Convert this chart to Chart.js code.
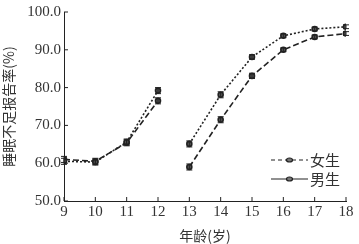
<!DOCTYPE html>
<html>
<head>
<meta charset="utf-8">
<script src="https://cdn.jsdelivr.net/npm/chart.js@4"></script>
<style>
  html, body { margin: 0; padding: 0; background: #fff; }
  #wrap { width: 359px; height: 244px; }
</style>
</head>
<body>
<div id="wrap"><canvas id="c"></canvas></div>
<script>
// 数据
const ages = [9, 10, 11, 12, 13, 14, 15, 16, 17, 18];
const girls = [60.5, 60.3, 65.6, 79.2, 65.1, 78.1, 88.1, 93.7, 95.5, 96.1];
const boys = [61.0, 60.5, 65.4, 76.5, 59.0, 71.5, 83.1, 90.0, 93.4, 94.3];
const girlsErr = [0.8, 0.8, 0.8, 0.8, 0.8, 0.8, 0.6, 0.5, 0.5, 0.5];
const boysErr = [0.8, 0.8, 0.8, 0.8, 0.8, 0.8, 0.7, 0.5, 0.5, 0.5];
const yTicks = [50, 60, 70, 80, 90, 100];
const breakAfter = 12; // 12岁与13岁之间断开

const serif = "'Liberation Serif', 'Noto Sans CJK SC', serif";
const ink = '#222';

function toPoints(vals) {
    return ages.map((a, i) => ({ x: a, y: vals[i] }));
}

const hideBreak = ctx => ctx.p0.parsed.x === breakAfter ? 'transparent' : undefined;

// 误差线、内向刻度与图例
const extras = {
    id: 'extras',
    afterDatasetsDraw(chart) {
        const { ctx, scales: { x, y }, chartArea } = chart;
        ctx.save();
        ctx.strokeStyle = ink;
        ctx.lineWidth = 1;
        [girlsErr, boysErr].forEach((errs, di) => {
            const vals = di === 0 ? girls : boys;
            ages.forEach((a, i) => {
                const px = x.getPixelForValue(a);
                const top = y.getPixelForValue(vals[i] + errs[i]);
                const bot = y.getPixelForValue(vals[i] - errs[i]);
                ctx.beginPath();
                ctx.moveTo(px, top); ctx.lineTo(px, bot);
                ctx.moveTo(px - 3, top); ctx.lineTo(px + 3, top);
                ctx.moveTo(px - 3, bot); ctx.lineTo(px + 3, bot);
                ctx.stroke();
            });
        });
        // 内向刻度
        ctx.beginPath();
        ages.forEach(a => {
            const px = x.getPixelForValue(a);
            ctx.moveTo(px, chartArea.bottom); ctx.lineTo(px, chartArea.bottom - 4);
        });
        yTicks.forEach(v => {
            const py = y.getPixelForValue(v);
            ctx.moveTo(chartArea.left, py); ctx.lineTo(chartArea.left + 4, py);
        });
        ctx.stroke();
        // 图例
        const items = [
            { text: '女生', dash: [4, 3] },
            { text: '男生', dash: [] }
        ];
        items.forEach((it, i) => {
            const ly = 160 + i * 19;
            const x0 = 271, x1 = 308;
            ctx.setLineDash(it.dash);
            ctx.lineWidth = 1.2;
            ctx.beginPath();
            ctx.moveTo(x0, ly); ctx.lineTo(x1, ly);
            ctx.stroke();
            ctx.setLineDash([]);
            ctx.fillStyle = '#777';
            ctx.beginPath();
            ctx.ellipse((x0 + x1) / 2, ly, 3, 2, 0, 0, Math.PI * 2);
            ctx.fill();
            ctx.stroke();
            ctx.fillStyle = '#333';
            ctx.font = "15px 'Noto Sans CJK SC'";
            ctx.textBaseline = 'middle';
            ctx.fillText(it.text, x1 + 2, ly);
        });
        ctx.restore();
    }
};

new Chart(document.getElementById('c'), {
    type: 'line',
    data: {
        datasets: [
            {
                label: '女生',
                data: toPoints(girls),
                borderColor: ink,
                borderWidth: 1.6,
                borderDash: [2, 2],
                pointRadius: 2.5,
                pointBackgroundColor: '#555',
                pointBorderColor: ink,
                segment: { borderColor: hideBreak }
            },
            {
                label: '男生',
                data: toPoints(boys),
                borderColor: ink,
                borderWidth: 1.6,
                borderDash: [6, 3],
                pointRadius: 2.5,
                pointBackgroundColor: '#555',
                pointBorderColor: ink,
                segment: { borderColor: hideBreak }
            }
        ]
    },
    options: {
        responsive: true,
        maintainAspectRatio: false,
        animation: false,
        layout: { padding: { top: 12, right: 13, left: 0, bottom: 0 } },
        plugins: { legend: { display: false }, tooltip: { enabled: false } },
        scales: {
            x: {
                type: 'linear',
                min: 9, max: 18,
                afterBuildTicks: s => { s.ticks = ages.map(v => ({ value: v })); },
                grid: { display: false, drawTicks: false },
                border: { color: ink, width: 1 },
                ticks: { color: '#333', font: { family: serif, size: 15 }, padding: 2 },
                title: { display: true, text: '年龄(岁)', color: '#333', font: { family: "'Noto Sans CJK SC'", size: 14 }, padding: { top: 0, bottom: 0 } },
                afterFit: s => { s.height = 43; }
            },
            y: {
                min: 50, max: 100,
                afterBuildTicks: s => { s.ticks = yTicks.map(v => ({ value: v })); },
                grid: { display: false, drawTicks: false },
                border: { color: ink, width: 1 },
                ticks: { color: '#333', font: { family: serif, size: 15 }, padding: 3, callback: v => v.toFixed(1) },
                title: { display: true, text: '睡眠不足报告率(%)', color: '#333', font: { family: "'Noto Sans CJK SC'", size: 14 }, padding: { top: 0, bottom: 1 } },
                afterFit: s => { s.width = 64; }
            }
        }
    },
    plugins: [extras]
});
</script>
</body>
</html>
